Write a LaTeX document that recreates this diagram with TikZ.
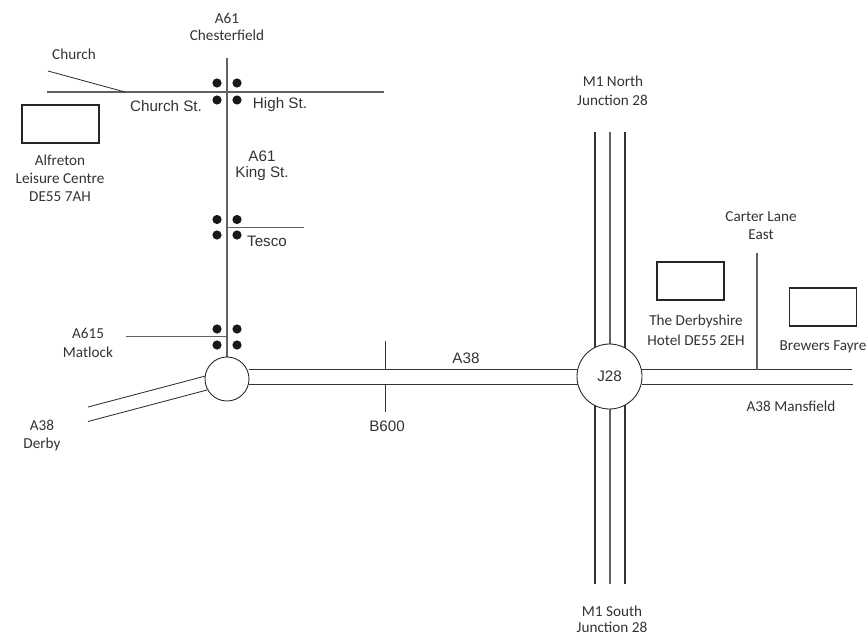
\documentclass[tikz,border=0pt]{standalone}
\usepackage{fontspec}
\setmainfont{Carlito}
\newfontfamily\arialf{Liberation Sans}
\tikzset{
  px/.style={x=0.75pt,y=-0.75pt},
  road/.style={line width=0.8pt,draw=black!62},
  thinroad/.style={line width=0.65pt,draw=black!80},
  heavyroad/.style={line width=0.9pt,draw=black!80},
  bld/.style={draw=black!85,line width=1pt,fill=none,inner sep=0pt,minimum width=#1*0.75pt,minimum height=28.5pt},
  rbt/.style={circle,draw=black!85,line width=0.65pt,fill=white,inner sep=0pt,minimum size=#1*0.75pt},
  lampdot/.style={circle,fill=black!90,inner sep=0pt,minimum size=6.9pt},
  lab/.style={inner sep=0pt,font=\fontsize{11.4pt}{13pt}\selectfont,text=black!80},
  labs/.style={inner sep=0pt,font=\arialf\fontsize{11.4pt}{13pt}\selectfont,text=black!80}
}
\begin{document}
\begin{tikzpicture}[px]
\useasboundingbox (0,0) rectangle (866,635);
\coordinate (a61n) at (227,58);
\coordinate (cw) at (47,92);
\coordinate (ce) at (384,92);
\coordinate (chA) at (48,71);
\coordinate (chB) at (125,92);
\coordinate (tA) at (227,227.5);
\coordinate (tB) at (304,227.5);
\coordinate (mA) at (126,336.5);
\coordinate (mB) at (227,336.5);
\coordinate (dA) at (88,407);
\coordinate (dB) at (205.5,376);
\coordinate (dC) at (88,421.5);
\coordinate (dD) at (207,390);
\coordinate (aT1) at (248.5,369.5);
\coordinate (aT2) at (579,369.5);
\coordinate (aB1) at (248.5,384);
\coordinate (aB2) at (579,384);
\coordinate (eT1) at (641,369.5);
\coordinate (eT2) at (852,369.5);
\coordinate (eB1) at (641.5,384);
\coordinate (eB2) at (853,384);
\coordinate (bA) at (385,341);
\coordinate (bB) at (385,369.5);
\coordinate (bC) at (385,384);
\coordinate (bD) at (385,412);
\coordinate (carA) at (757,253);
\coordinate (carB) at (757,369.5);
\coordinate (m1a) at (595,132);
\coordinate (m1b) at (595,352);
\coordinate (m2a) at (610,132);
\coordinate (m2b) at (610,346);
\coordinate (m3a) at (625,132);
\coordinate (m3b) at (625,352);
\coordinate (s1a) at (595,402);
\coordinate (s1b) at (595,584);
\coordinate (s2a) at (610,408);
\coordinate (s2b) at (610,584);
\coordinate (s3a) at (625,402);
\coordinate (s3b) at (625,584);
\draw[road] (a61n) -- (227,357);
\draw[road] (cw) -- (ce);
\draw[thinroad] (chA) -- (chB);
\draw[road] (tA) -- (tB);
\draw[road] (mA) -- (mB);
\draw[thinroad] (dA) -- (dB);
\draw[thinroad] (dC) -- (dD);
\draw[thinroad] (aT1) -- (aT2);
\draw[thinroad] (aB1) -- (aB2);
\draw[thinroad] (eT1) -- (eT2);
\draw[thinroad] (eB1) -- (eB2);
\draw[thinroad] (bA) -- (bB);
\draw[thinroad] (bC) -- (bD);
\draw[road] (carA) -- (carB);
\draw[heavyroad] (m1a) -- (m1b);
\draw[road] (m2a) -- (m2b);
\draw[heavyroad] (m3a) -- (m3b);
\draw[heavyroad] (s1a) -- (s1b);
\draw[road] (s2a) -- (s2b);
\draw[heavyroad] (s3a) -- (s3b);
\node[rbt=44] (ra) at (227,379) {};
\node[rbt=65,font=\arialf\fontsize{11.4pt}{13pt}\selectfont,text=black!80] (j28) at (609.5,376.5) {J28};
\foreach \n/\px/\py in {a/217/83,b/237/83,c/217/100,d/237/100,e/217/219.5,f/237/219.5,g/217/235,h/237/235,i/217/329,j/237/329,k/217/345,l/237/345}
  \node[lampdot] (lamp\n) at (\px,\py) {};
\node[bld=77] (leisure) at (60.5,124) {};
\node[bld=67] (hotel) at (690.5,281) {};
\node[bld=67] (fayre) at (823,307) {};
\node[lab] (l1) at (227,18) {A61};
\node[lab] (l2) at (227,35) {Chesterfield};
\node[lab] (l3) at (74,54) {Church};
\node[labs] (l4) at (166,106) {Church St.};
\node[labs] (l5) at (280,105) {High St.};
\node[labs] (l6) at (262,156) {A61};
\node[labs] (l7) at (262,174) {King St.};
\node[lab] (l8) at (60,160) {Alfreton};
\node[lab] (l9) at (60,178) {Leisure Centre};
\node[lab] (l10) at (60,197) {DE55 7AH};
\node[labs] (l11) at (267,241) {Tesco};
\node[lab] (l12) at (88,333) {A615};
\node[lab] (l13) at (88,352) {Matlock};
\node[labs] (l14) at (466,358) {A38};
\node[labs] (l15) at (387,426) {B600};
\node[lab] (l16) at (613,81) {M1 North};
\node[lab] (l17) at (612.5,100) {Junction 28};
\node[lab] (l18) at (612,611) {M1 South};
\node[lab] (l19) at (612,627) {Junction 28};
\node[lab] (l20) at (42,425) {A38};
\node[lab] (l21) at (42,444) {Derby};
\node[lab] (l22) at (761,217) {Carter Lane};
\node[lab] (l23) at (761,235) {East};
\node[lab] (l24) at (696,321) {The Derbyshire};
\node[lab] (l25) at (696,340) {Hotel DE55 2EH};
\node[lab] (l26) at (823,347) {Brewers Fayre};
\node[lab] (l27) at (791,406) {A38 Mansfield};
\end{tikzpicture}
\end{document}
